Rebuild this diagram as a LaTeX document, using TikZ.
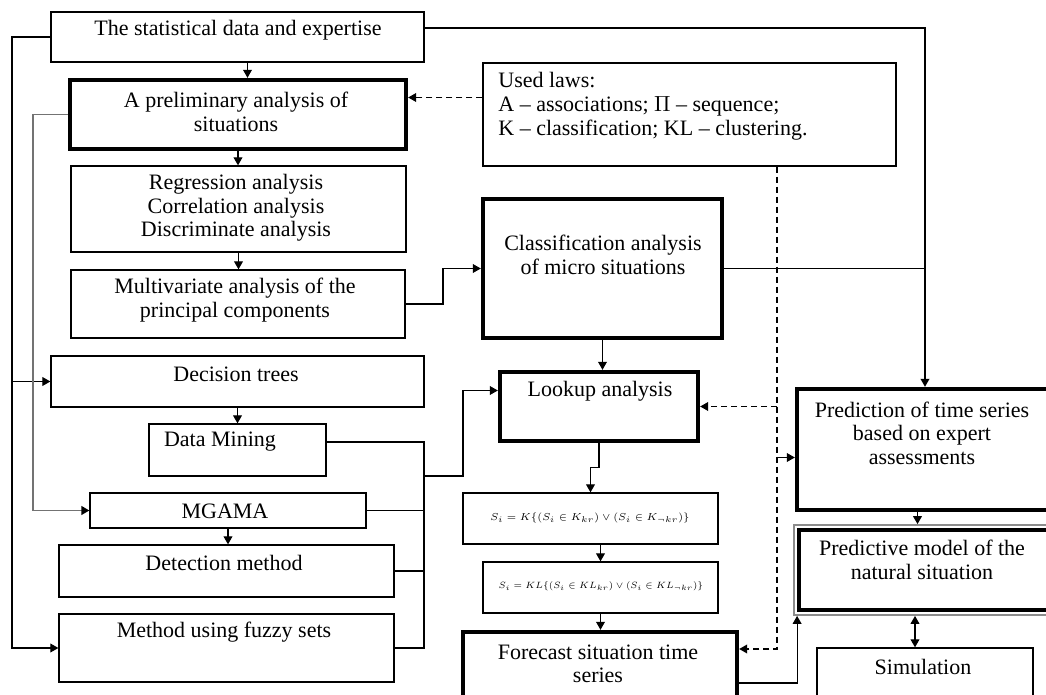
\documentclass[tikz,border=0pt]{standalone}
\usepackage{fontspec}
\setmainfont{Liberation Serif}
\usetikzlibrary{arrows.meta,fit,positioning}

\tikzset{
  box/.style={draw, line width=0.65pt, inner sep=0pt},
  boldbox/.style={draw, line width=2.2pt, inner sep=0pt},
  txt/.style={align=center, inner sep=0pt, font=\fontsize{11}{11.8}\selectfont},
  lawtxt/.style={align=left, anchor=west, inner sep=0pt, font=\fontsize{11}{12}\selectfont},
  frm/.style={inner sep=0pt, font=\fontsize{6}{7}\selectfont},
  link/.style={line width=0.6pt, ->},
  dlink/.style={line width=0.6pt, dash pattern=on 3pt off 2pt, ->},
}

\begin{document}
\begin{tikzpicture}[>={Triangle[length=4pt, width=4.4pt]}, x=0.5pt, y=-0.5pt]
    \useasboundingbox (0,0) rectangle (1046,695);
    \clip (0,0) rectangle (1046,695);

    % left column
    \node[box, fit={(51,12) (424,62)}] (stat) {};
    \node[txt] (statt) at (238,30) {The statistical data and expertise};
    \node[boldbox, fit={(70,80) (406,149)}] (prelim) {};
    \node[txt] (prelimt) at (236,112) {A preliminary analysis of\\situations};
    \node[box, fit={(71,166) (406,252)}] (regr) {};
    \node[txt] (regrt) at (236,208) {Regression analysis\\Correlation analysis\\Discriminate analysis};
    \node[box, fit={(71,270) (405,338)}] (multi) {};
    \node[txt] (multit) at (235,300) {Multivariate analysis of the\\principal components};
    \node[box, fit={(51,356) (424,407)}] (dtrees) {};
    \node[txt] (dtreest) at (236,374) {Decision trees};
    \node[box, fit={(149,424) (326,476)}] (dmining) {};
    \node[txt] (dminingt) at (220,442) {Data Mining};
    \node[box, fit={(90,493) (366,528)}] (mgama) {};
    \node[txt] (mgamat) at (225,511) {MGAMA};
    \node[box, fit={(59,545) (394,597)}] (detect) {};
    \node[txt] (detectt) at (224,563) {Detection method};
    \node[box, fit={(59,614) (394,682)}] (fuzzy) {};
    \node[txt] (fuzzyt) at (224,632) {Method using fuzzy sets};

    % middle column
    \node[box, fit={(483,63) (896,166)}] (laws) {};
    \node[lawtxt] (lawst) at (498,106) {Used laws:\\ A -- associations; $\Pi$ -- sequence;\\ K -- classification; KL -- clustering.};
    \node[boldbox, fit={(483,199) (722,338)}] (classif) {};
    \node[txt] (classift) at (603,255) {Classification analysis\\of micro situations};
    \node[boldbox, fit={(500,372) (698,441)}] (lookup) {};
    \node[txt] (lookupt) at (600,391) {Lookup analysis};
    \node[box, fit={(463,493) (718,544)}] (f1) {};
    \node[frm] (f1t) at (590,518) {\scalebox{0.84}{$S_i = K\{(S_i \in K_{kr}) \vee (S_i \in K_{\neg kr})\}$}};
    \node[box, fit={(483,562) (718,613)}] (f2) {};
    \node[frm] (f2t) at (601,586) {\scalebox{0.76}{$S_i = KL\{(S_i \in KL_{kr}) \vee (S_i \in KL_{\neg kr})\}$}};
    \node[boldbox, fit={(463,632) (737,712)}] (forecast) {};
    \node[txt] (forecastt) at (598,664) {Forecast situation time\\series};

    % right column
    \node[boldbox, fit={(797,389) (1052,510)}] (predTS) {};
    \node[txt] (predTSt) at (922,433) {Prediction of time series\\based on expert\\assessments};
    \node[box, draw=black!45, line width=0.9pt, fit={(794,525) (1052,615)}] (predModel) {};
    \node[boldbox, fit={(799,530) (1052,610)}] (predModelIn) {};
    \node[txt] (predModelt) at (922,560) {Predictive model of the\\natural situation};
    \node[box, fit={(817,648) (1033,712)}] (sim) {};
    \node[txt] (simt) at (923,667) {Simulation};

    % bus lines
    \coordinate (busL) at (12,0);
    \coordinate (busI) at (33,0);
    \coordinate (busR) at (424,0);
    \coordinate (busM) at (443,0);
    \coordinate (busK) at (463,0);
    \coordinate (busD) at (777,0);
    \coordinate (busT) at (925,0);
    \coordinate (jLook) at (424,476);
    \coordinate (statOut) at ([yshift=4.5pt]stat.east);
    \coordinate (lawsOut) at ([yshift=8.5pt]laws.west);
    \coordinate (lookIn) at ([yshift=8pt]lookup.west);
    \coordinate (tsIn) at ([yshift=-4pt]predTS.west);
    \coordinate (tsOut) at ([xshift=-3.5pt]predTS.south);
    \coordinate (fcIn) at ([yshift=11.5pt]forecast.east);
    \coordinate (fcOut) at ([yshift=-5.5pt]forecast.east);
    \coordinate (pmIn) at ([xshift=2pt]predModel.south west);
    \coordinate (pmOut) at ([xshift=-4pt]predModel.south);

    % down the left column
    \draw[link] ([xshift=5pt]stat.south) -- ([xshift=5pt]stat.south |- prelim.north);
    \draw[link] (prelim.south) -- (prelim.south |- regr.north);
    \draw[link] (regr.south) -- (regr.south |- multi.north);
    \draw[link] (dtrees.south) -- (dtrees.south |- dmining.north);
    \draw[link] (mgama.south) -- (mgama.south |- detect.north);

    % outer feeds
    \draw[link] (stat.west) -- (stat.west -| busL) |- (fuzzy.west);
    \draw[link] (busL |- dtrees.west) -- (dtrees.west);
    \draw[line width=0.9pt, black!55, -{Triangle[length=4pt, width=4.4pt, black]}] (prelim.west) -- (prelim.west -| busI) |- (mgama.west);

    % methods bus to lookup
    \draw[line width=0.6pt] ([yshift=4pt]dmining.east) -- ([yshift=4pt]dmining.east -| busR) -- (busR |- fuzzy.east) -- (fuzzy.east);
    \draw[line width=0.6pt] (mgama.east) -- (mgama.east -| busR);
    \draw[line width=0.6pt] (detect.east) -- (detect.east -| busR);
    \draw[link] (jLook) -- (jLook -| busK) |- (lookIn);

    % middle column
    \draw[link] (multi.east) -- (multi.east -| busM) |- (classif.west);
    \draw[link] (classif.south) -- (classif.south |- lookup.north);
    \draw[link] (lookup.south) -- ++(0,-12pt) -| (f1.north);
    \draw[link] (f2.north |- f1.south) -- (f2.north);
    \draw[link] (f2.south) -- (f2.south |- forecast.north);

    % right side
    \draw[link] (statOut) -- (statOut -| busT) -- (busT |- predTS.north);
    \draw[line width=0.6pt] (classif.east) -- (classif.east -| busT);
    \draw[link] (tsOut) -- (tsOut |- predModel.north);
    \draw[link] (fcOut) -| (pmIn);
    \draw[line width=0.6pt, <->] (pmOut) -- (pmOut |- sim.north);

    % dashed links from the laws
    \draw[dlink] (lawsOut) -- (lawsOut -| prelim.east);
    \draw[dlink] (laws.south -| busD) |- (fcIn);
    \draw[dlink] (busD |- lookup.east) -- (lookup.east);
    \draw[link] (busD |- tsIn) -- (tsIn);
\end{tikzpicture}
\end{document}
